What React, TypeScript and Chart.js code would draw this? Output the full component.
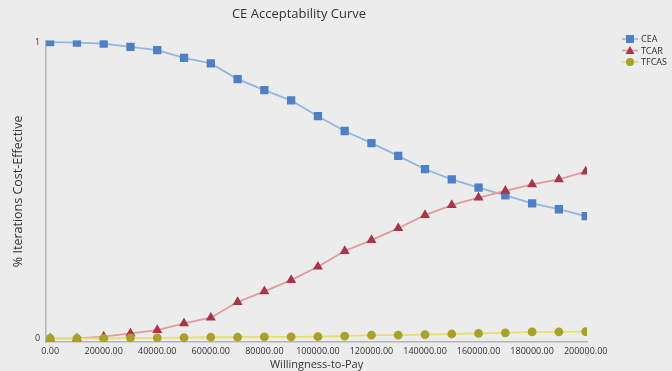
import React, { useEffect, useRef } from "react";
import { Chart, registerables } from "chart.js";

Chart.register(...registerables);

const wtp = [0, 10000, 20000, 30000, 40000, 50000, 60000, 70000, 80000, 90000, 100000, 110000, 120000, 130000, 140000, 150000, 160000, 170000, 180000, 190000, 200000];
const cea = [1.0, 0.998, 0.995, 0.984, 0.973, 0.947, 0.928, 0.875, 0.838, 0.803, 0.75, 0.7, 0.659, 0.616, 0.571, 0.537, 0.509, 0.483, 0.456, 0.436, 0.413];
const tcar = [0.0, 0.0, 0.006, 0.017, 0.028, 0.051, 0.07, 0.123, 0.159, 0.197, 0.242, 0.295, 0.332, 0.372, 0.416, 0.45, 0.475, 0.498, 0.52, 0.537, 0.563];
const tfcas = [0.0, 0.0, 0.0, 0.002, 0.002, 0.003, 0.004, 0.004, 0.005, 0.005, 0.006, 0.008, 0.011, 0.011, 0.013, 0.015, 0.017, 0.019, 0.022, 0.022, 0.023];
const seriesNames = ["CEA", "TCAR", "TFCAS"];
const yTicks = [0, 1];

const lineColors = ["#93b6e3", "#e39a9e", "#e6df6a"];
const markerColors = ["#4f7fc4", "#a8364a", "#a7a22a"];
const markerStyles = ["rect", "triangle", "circle"];
const markerRadius = [4.6, 4, 3.5];

const legendPlugin = {
  id: "customLegend",
  afterDraw(chart: any) {
    const ctx = chart.ctx;
    ctx.save();
    seriesNames.forEach((name, i) => {
      const y = 39 + i * 11.5;
      ctx.strokeStyle = lineColors[i];
      ctx.lineWidth = 1.5;
      ctx.beginPath();
      ctx.moveTo(622, y);
      ctx.lineTo(638, y);
      ctx.stroke();
      ctx.fillStyle = markerColors[i];
      ctx.beginPath();
      if (markerStyles[i] === "rect") {
        ctx.rect(626, y - 4, 8, 8);
      } else if (markerStyles[i] === "triangle") {
        ctx.moveTo(630, y - 4.5);
        ctx.lineTo(634.5, y + 3.5);
        ctx.lineTo(625.5, y + 3.5);
        ctx.closePath();
      } else {
        ctx.arc(630, y, 4, 0, Math.PI * 2);
      }
      ctx.fill();
      ctx.fillStyle = "#333";
      ctx.font = "9px 'Liberation Sans Narrow', 'Noto Sans', sans-serif";
      ctx.textBaseline = "middle";
      ctx.textAlign = "left";
      ctx.fillText(name, 641, y + 0.5);
    });
    ctx.restore();
  },
};

const bgPlugin = {
  id: "bg",
  beforeDraw(chart: any) {
    const ctx = chart.ctx;
    ctx.save();
    ctx.fillStyle = "#ececec";
    ctx.fillRect(0, 0, chart.width, chart.height);
    ctx.restore();
  },
};

export default function App() {
  const ref = useRef<HTMLCanvasElement>(null);
  useEffect(() => {
    document.body.style.margin = "0";
    const datasets = [cea, tcar, tfcas].map((vals, i) => ({
      label: seriesNames[i],
      data: vals.map((v, j) => ({ x: wtp[j], y: v })),
      borderColor: lineColors[i],
      backgroundColor: markerColors[i],
      pointBackgroundColor: markerColors[i],
      pointBorderColor: markerColors[i],
      pointStyle: markerStyles[i] as any,
      pointRadius: markerRadius[i],
      borderWidth: 1.8,
      tension: 0,
      order: i === 2 ? 0 : 3 - i,
    }));
    const chart = new Chart(ref.current!, {
      type: "line",
      data: { datasets },
      options: {
        animation: false,
        responsive: false,
        layout: { padding: { left: 11, right: 85, top: 4, bottom: 0 } },
        plugins: {
          legend: { display: false },
          tooltip: { enabled: false },
          title: {
            display: true,
            text: "CE Acceptability Curve",
            color: "#333",
            font: { family: "'Open Sans', sans-serif", size: 13, weight: "normal" },
            padding: { top: 2, bottom: 19 },
          },
        },
        scales: {
          x: {
            type: "linear",
            min: -1500,
            max: 200500,
            afterBuildTicks: (axis: any) => {
              axis.ticks = wtp.filter((v) => v % 20000 === 0).map((v) => ({ value: v }));
            },
            ticks: {
              callback: (v: any) => Number(v).toFixed(2),
              color: "#333",
              font: { family: "'Open Sans', sans-serif", size: 9 },
              maxRotation: 0,
              autoSkip: false,
              padding: 1,
            },
            grid: { display: false, drawTicks: true, tickLength: 3, color: "#bbb" },
            border: { color: "#b5b5b5", width: 1.5 },
            title: {
              display: true,
              text: "Willingness-to-Pay",
              color: "#333",
              font: { family: "'Open Sans', sans-serif", size: 11 },
              padding: { top: 0, bottom: 0 },
            },
          },
          y: {
            type: "linear",
            min: -0.012,
            max: 1.005,
            afterBuildTicks: (axis: any) => {
              axis.ticks = yTicks.map((v) => ({ value: v }));
            },
            ticks: {
              color: "#333",
              font: { family: "'Open Sans', sans-serif", size: 9 },
              padding: 3,
            },
            grid: { display: false, tickLength: 3 },
            border: { color: "#b5b5b5", width: 1.5 },
            title: {
              display: true,
              text: "% Iterations Cost-Effective",
              color: "#333",
              font: { family: "'Open Sans', sans-serif", size: 12.5 },
              padding: { top: 0, bottom: 6 },
            },
          },
        },
      },
      plugins: [bgPlugin, legendPlugin],
    });
    return () => chart.destroy();
  }, []);
  return (
    <div style={{ width: 672, height: 371, background: "#ececec" }}>
      <canvas ref={ref} width={672} height={371} style={{ display: "block" }} />
    </div>
  );
}
